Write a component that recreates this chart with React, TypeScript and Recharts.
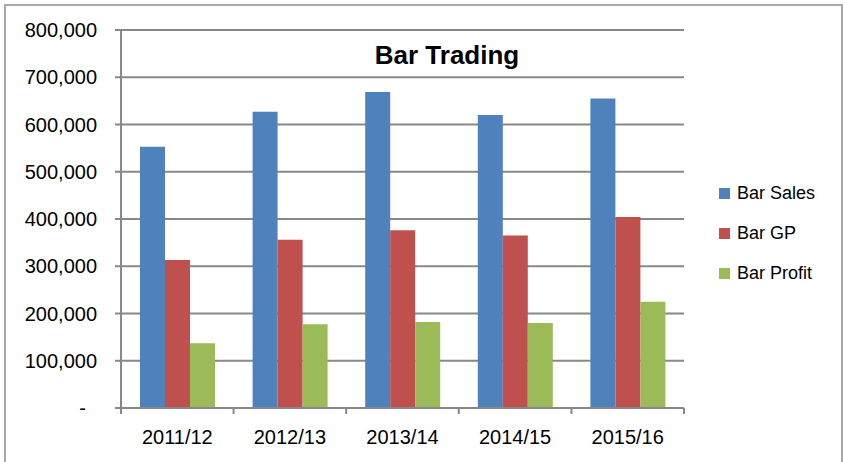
import { BarChart, Bar, XAxis, YAxis, CartesianGrid, Legend } from 'recharts'

const years = ['2011/12', '2012/13', '2013/14', '2014/15', '2015/16']
const barSales = [553000, 627000, 669000, 620000, 655000]
const barGP = [313000, 356000, 376000, 365000, 404000]
const barProfit = [137000, 177000, 182000, 180000, 225000]
const yTicks = [0, 100000, 200000, 300000, 400000, 500000, 600000, 700000, 800000]

const SERIES = [
  { key: 'sales', name: 'Bar Sales', color: '#4f81bd' },
  { key: 'gp', name: 'Bar GP', color: '#c0504d' },
  { key: 'profit', name: 'Bar Profit', color: '#9bbb59' },
]

const data = years.map((year, i) => ({
  year,
  sales: barSales[i],
  gp: barGP[i],
  profit: barProfit[i],
}))

const FONT = '"Liberation Sans", Arial, sans-serif'
const AXIS_GRAY = '#888888'
const BAND = (684 - 121) / years.length

// category label plus tick marks on the category boundaries (like Excel)
function CategoryTick(props: any) {
  const { x, y, payload, index } = props
  const axisY = y - 22
  return (
    <g>
      <line x1={x - BAND / 2} x2={x - BAND / 2} y1={axisY} y2={axisY + 6} stroke={AXIS_GRAY} strokeWidth={2} />
      {index === years.length - 1 && (
        <line x1={x + BAND / 2} x2={x + BAND / 2} y1={axisY} y2={axisY + 6} stroke={AXIS_GRAY} strokeWidth={2} />
      )}
      <text x={x} y={y} dy={14} textAnchor="middle" fill="#000" fontSize={20} fontFamily={FONT}>
        {payload.value}
      </text>
    </g>
  )
}

function LegendBox() {
  return (
    <div style={{ fontFamily: FONT, fontSize: 18, color: '#000' }}>
      {SERIES.map((s) => (
        <div key={s.key} style={{ height: 40, display: 'flex', alignItems: 'center', paddingLeft: 19 }}>
          <span style={{ width: 11, height: 11, background: s.color, display: 'inline-block' }} />
          <span style={{ marginLeft: 7 }}>{s.name}</span>
        </div>
      ))}
    </div>
  )
}

function App() {
  return (
    <div style={{ position: 'absolute', left: 0, top: 0, width: 844, height: 462, background: '#fff', overflow: 'hidden' }}>
      <div
        style={{
          position: 'absolute',
          left: 4,
          top: 4,
          width: 839,
          height: 480,
          border: '2px solid #a9a9a9',
          boxSizing: 'border-box',
        }}
      />
      <div
        style={{
          position: 'absolute',
          left: 0,
          width: 894,
          top: 40,
          textAlign: 'center',
          fontFamily: FONT,
          fontWeight: 'bold',
          fontSize: 26,
          color: '#000',
          zIndex: 2,
        }}
      >
        Bar Trading
      </div>
      <BarChart
        width={844}
        height={462}
        data={data}
        margin={{ top: 30, right: 20, bottom: 0, left: 0 }}
        barCategoryGap={19}
        barGap={0}
      >
        <CartesianGrid vertical={false} stroke={AXIS_GRAY} strokeWidth={1.8} />
        <XAxis
          dataKey="year"
          height={54}
          stroke={AXIS_GRAY}
          strokeWidth={2}
          tickLine={false}
          tickSize={6}
          tickMargin={16}
          tick={<CategoryTick />}
          interval={0}
        />
        <YAxis
          width={121}
          domain={[0, 800000]}
          ticks={yTicks}
          interval={0}
          stroke={AXIS_GRAY}
          strokeWidth={2}
          tickSize={6}
          tickMargin={18}
          tick={{ fill: '#000', fontSize: 20, fontFamily: FONT }}
          tickFormatter={(v: number) => (v === 0 ? '-\u00a0\u00a0' : v.toLocaleString('en-US'))}
        />
        <Legend
          layout="vertical"
          align="right"
          verticalAlign="middle"
          width={140}
          wrapperStyle={{ left: 700, top: 173, width: 140 }}
          content={<LegendBox />}
        />
        {SERIES.map((s) => (
          <Bar key={s.key} dataKey={s.key} name={s.name} fill={s.color} isAnimationActive={false} />
        ))}
      </BarChart>
    </div>
  )
}

export default App
